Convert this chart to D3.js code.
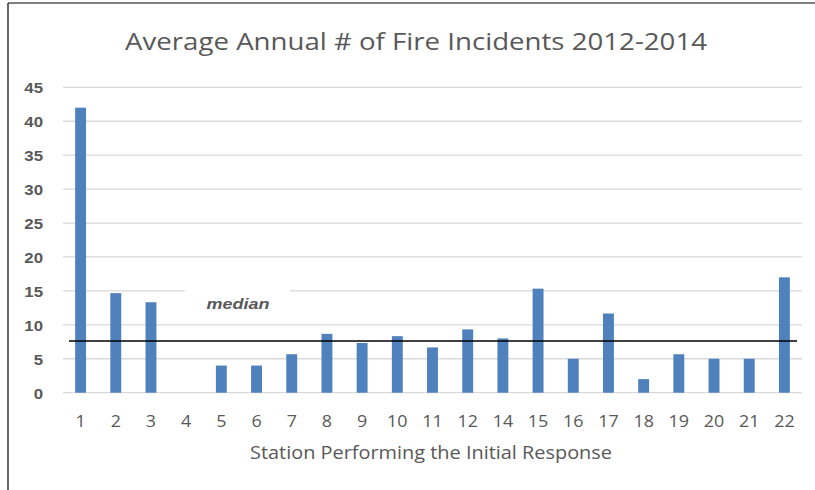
<!DOCTYPE html>
<html><head><meta charset="utf-8">
<script src="https://cdn.jsdelivr.net/npm/d3@7"></script>
<style>html,body{margin:0;padding:0;background:#fff}svg{display:block}</style>
</head><body>
<script>
const stations = ["1","2","3","4","5","6","7","8","9","10","11","12","14","15","16","17","18","19","20","21","22"];
const incidents = [42,14.67,13.33,0,4,4,5.67,8.67,7.33,8.33,6.67,9.33,8,15.33,5,11.67,2,5.67,5,5,17];
const yTicks = [0,5,10,15,20,25,30,35,40,45];
const medianValue = [7.6];
const titleText = "Average Annual # of Fire Incidents 2012-2014";
const xTitle = "Station Performing the Initial Response";
const medianLabel = "median";

const W = 815, H = 490;
const svg = d3.select("body").append("svg").attr("width", W).attr("height", H);

function stretch(sel, f) {
  sel.each(function(){
    const L = this.getComputedTextLength();
    d3.select(this).attr("textLength", L*f).attr("lengthAdjust","spacingAndGlyphs");
  });
}

// frame (top and left)
svg.append("line").attr("x1",8).attr("x2",W).attr("y1",3).attr("y2",3).attr("stroke","#000").attr("stroke-width",1.2);
svg.append("line").attr("x1",8).attr("x2",8).attr("y1",3).attr("y2",H).attr("stroke","#000").attr("stroke-width",1.2);

const x = d3.scaleBand().domain(stations).range([63, 802]).paddingInner(0.69).paddingOuter(0.345);
const y = d3.scaleLinear().domain([0,45]).range([392.7, 87.3]);

// gridlines
svg.append("g").selectAll("line").data(yTicks).join("line")
  .attr("x1",63).attr("x2",802)
  .attr("y1",d=>y(d)).attr("y2",d=>y(d))
  .attr("stroke","#d9d9d9").attr("stroke-width",1.3);

// y axis labels
const yAxis = d3.axisLeft(y).tickValues(yTicks).tickSize(0).tickPadding(0);
const gy = svg.append("g").attr("transform","translate(43,0)").call(yAxis);
gy.select(".domain").remove();
gy.selectAll("text").attr("font-family","Liberation Sans, Arial, sans-serif").attr("font-weight","bold")
  .attr("font-size",15).attr("fill","#595959").attr("dy","0.36em");
stretch(gy.selectAll("text"), 1.12);

// bars
svg.append("g").selectAll("rect").data(incidents).join("rect")
  .attr("x",(d,i)=>x(stations[i])).attr("width",x.bandwidth())
  .attr("y",d=>y(d)).attr("height",d=>y(0)-y(d))
  .attr("fill","#4f81bd");

// x axis labels
const xAxis = d3.axisBottom(x).tickSize(0).tickPadding(0);
const gx = svg.append("g").attr("transform","translate(0,415.5)").call(xAxis);
gx.select(".domain").remove();
gx.selectAll("text").attr("font-family","Open Sans, sans-serif").attr("font-size",16.3)
  .attr("fill","#595959").attr("dy","0.72em");
stretch(gx.selectAll("text"), 1.1);

// median label box & text
svg.append("rect").attr("x",185).attr("y",286).attr("width",105).attr("height",30).attr("fill","#fff");
const mt = svg.append("text").attr("x",238).attr("y",309).attr("text-anchor","middle")
  .attr("font-family","Liberation Sans, Arial, sans-serif").attr("font-style","italic").attr("font-weight","bold")
  .attr("font-size",15.5).attr("fill","#595959").text(medianLabel);
mt.attr("textLength",63).attr("lengthAdjust","spacingAndGlyphs");

// median line
svg.append("g").selectAll("line").data(medianValue).join("line")
  .attr("x1",x.range()[0]+6).attr("x2",x.range()[1]-5)
  .attr("y1",d=>y(d)).attr("y2",d=>y(d))
  .attr("stroke","#000").attr("stroke-width",1.5);

// title
svg.append("text").attr("x",416).attr("y",50).attr("text-anchor","middle")
  .attr("font-family","Open Sans, sans-serif").attr("font-size",24).attr("fill","#595959")
  .attr("textLength",582).attr("lengthAdjust","spacingAndGlyphs").text(titleText);

// x title
svg.append("text").attr("x",431).attr("y",458.5).attr("text-anchor","middle")
  .attr("font-family","Open Sans, sans-serif").attr("font-size",18).attr("fill","#595959")
  .attr("textLength",362).attr("lengthAdjust","spacingAndGlyphs").text(xTitle);
</script>
</body></html>
